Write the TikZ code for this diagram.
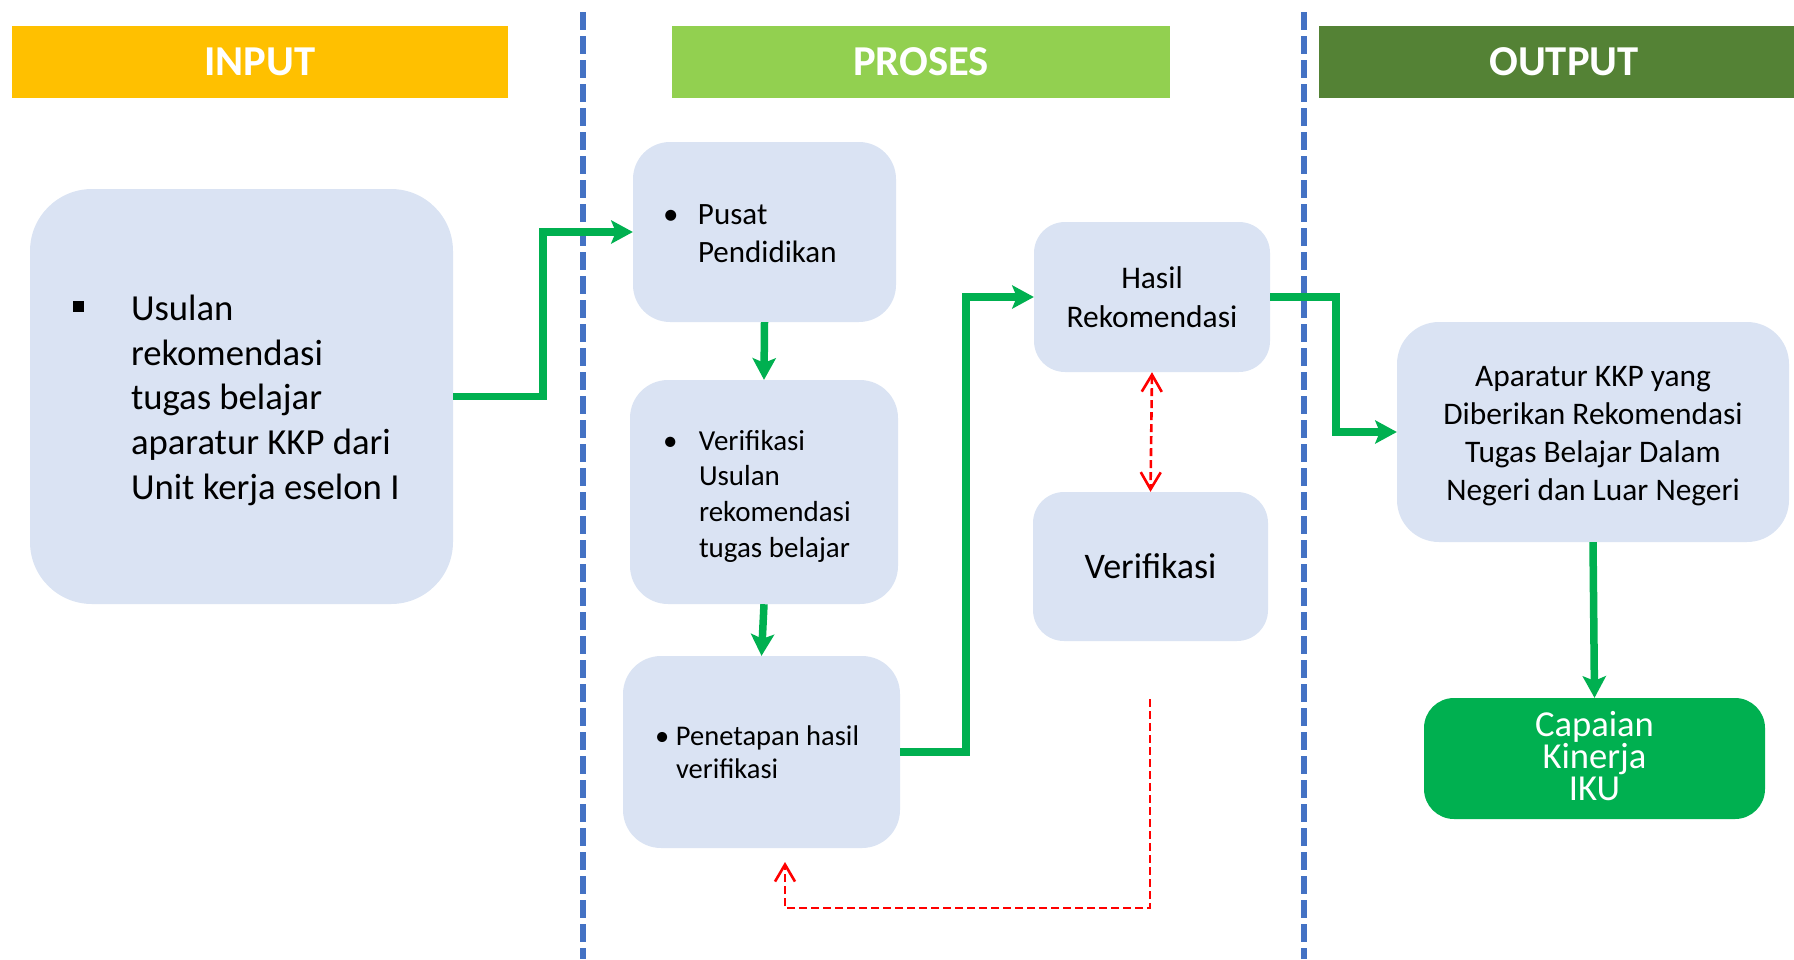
\documentclass[tikz,border=0pt]{standalone}
\usepackage{fontspec}
\setmainfont{Carlito}
\usepackage{tikz}
\usetikzlibrary{arrows.meta}

\definecolor{inputyellow}{HTML}{FFC000}
\definecolor{prosesgreen}{HTML}{92D050}
\definecolor{outputgreen}{HTML}{548235}
\definecolor{boxblue}{HTML}{DAE3F3}
\definecolor{flowgreen}{HTML}{00B050}
\definecolor{laneblue}{HTML}{4472C4}
\definecolor{checkred}{HTML}{FF0000}

\begin{document}
\begin{tikzpicture}[x=1pt, y=-1pt,
  header/.style={fill=#1, text=white, minimum height=72pt, inner sep=0pt,
    font=\fontsize{42.6}{50}\selectfont\bfseries},
  box/.style={fill=boxblue, rounded corners=#1, inner ysep=0pt},
  flow/.style={draw=flowgreen, line width=7.5pt,
    -{Stealth[length=22pt, width=24pt, inset=5pt, line width=0pt]}},
  barb/.tip={Straight Barb[length=17pt, width=20pt]},
  check/.style={draw=checkred, line width=2.6pt, dash pattern=on 8pt off 4pt},
  lane/.style={draw=laneblue, line width=6pt, dash pattern=on 18pt off 6pt}]
\useasboundingbox (0,0) rectangle (1794,959);
% top strut: pushes a text block down inside its box
\def\Lift#1{\rule{0pt}{#1pt}}

% swimlane dividers
\foreach \x in {583,1304}
  \draw[lane] (\x,12) -- (\x,959);

% lane headers
\def\Header#1#2#3#4{
\node[header=#3, minimum width=#2pt] (#4) at (#1,62) {#4};
}
\Header{260}{496}{inputyellow}{INPUT}
\Header{921}{498}{prosesgreen}{PROSES}
\Header{1564}{490}{outputgreen}{OUTPUT}

% input
\node[box=62pt, minimum width=423pt, minimum height=415pt, inner xsep=43pt,
  font=\fontsize{36.7}{44.75}\selectfont]
  (usulan) at (241.5,396.5)
  {\begin{tabular}{@{}p{58pt}@{}p{279pt}@{}}
   \raisebox{8pt}{\rule{11.3pt}{11.3pt}} & \Lift{40}Usulan\\
   & rekomendasi\\
   & tugas belajar\\
   & aparatur KKP dari\\
   & Unit kerja eselon I
   \end{tabular}};

% proses
\node[box=37pt, minimum width=263pt, minimum height=180pt, inner xsep=30pt,
  font=\fontsize{31}{38}\selectfont]
  (pusat) at (764.5,232)
  {\begin{tabular}{@{}p{35pt}@{}p{168pt}@{}}
   \textbullet & \Lift{34.5}Pusat\\
   & Pendidikan
   \end{tabular}};
\node[box=38pt, minimum width=268pt, minimum height=224pt, inner xsep=33pt,
  font=\fontsize{29}{35.7}\selectfont]
  (verif) at (764,492)
  {\begin{tabular}{@{}p{36pt}@{}p{166pt}@{}}
   \textbullet & \Lift{34}Verifikasi\\
   & Usulan\\
   & rekomendasi\\
   & tugas belajar
   \end{tabular}};
\node[box=38pt, minimum width=277pt, minimum height=192pt, inner xsep=32pt,
  font=\fontsize{28.5}{33.5}\selectfont]
  (penetapan) at (761.5,752)
  {\begin{tabular}{@{}p{21pt}@{}p{192pt}@{}}
   \textbullet & \Lift{30}Penetapan~hasil\\
   & verifikasi
   \end{tabular}};
\node[box=31pt, minimum width=236pt, minimum height=150pt, align=center,
  font=\fontsize{31.5}{39}\selectfont]
  (hasil) at (1152,297) {Hasil\\Rekomendasi};
\node[box=31pt, minimum width=235pt, minimum height=149pt,
  font=\fontsize{36}{44}\selectfont]
  (verifikasi) at (1150.5,566.5) {Verifikasi};

% output
\node[box=42pt, minimum width=392pt, minimum height=220pt, align=center,
  font=\fontsize{31.4}{38}\selectfont]
  (aparatur) at (1593,432)
  {\Lift{29}Aparatur KKP yang\\Diberikan Rekomendasi\\Tugas Belajar Dalam\\Negeri dan Luar Negeri};
\node[fill=flowgreen, rounded corners=30pt, inner sep=0pt, text=white,
  minimum width=341pt, minimum height=121pt, text width=300pt, align=center,
  font=\fontsize{36.6}{32}\selectfont]
  (capaian) at (1594.5,758.5)
  {\lineskiplimit=-50pt Capaian\\Kinerja\\IKU\rule[-6pt]{0pt}{6pt}};

% main flow
\draw[flow] (usulan.east) -- ++(90,0) |- (pusat.west);
\draw[flow] (pusat.south) -- (verif.north);
\draw[flow] (verif.south) -- (penetapan.north);
\draw[flow] (penetapan.east) -- ++(66,0) |- (hasil.west);
\draw[flow] (hasil.east) -- ++(66,0) |- (aparatur.west);
\draw[flow] (aparatur.south) -- (capaian.north);

% verification feedback
\draw[check, barb-barb] (hasil.south) -- (verifikasi.north);
\coordinate (loopstart) at (1150,699);
\coordinate (loopend) at (785,862);
\draw[check, -barb] (loopstart) -- ++(0,209) -| (loopend);
\end{tikzpicture}
\end{document}
